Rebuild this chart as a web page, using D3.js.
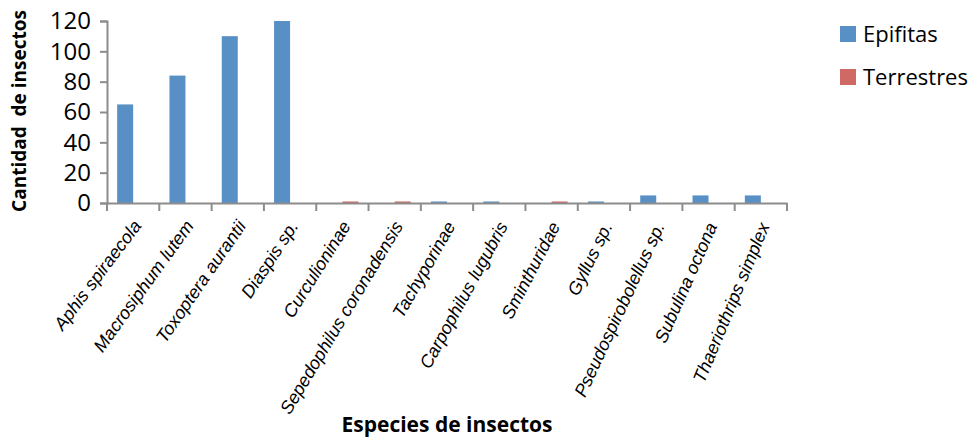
<!DOCTYPE html>
<html><head><meta charset="utf-8">
<script src="https://cdn.jsdelivr.net/npm/d3@7"></script>
<style>body{margin:0;background:#fff}svg{display:block}</style>
</head><body>
<svg id="chart" width="980" height="438"></svg>
<script>
const categories = ["Aphis spiraecola","Macrosiphum lutem","Toxoptera aurantii","Diaspis sp.","Curculioninae","Sepedophilus coronadensis","Tachyporinae","Carpophilus lugubris","Sminthuridae","Gyllus sp.","Pseudospirobolellus sp.","Subulina octona","Thaeriothrips simplex"];
const seriesNames = ["Epifitas","Terrestres"];
const epifitas =   [65, 84, 110, 120, 0, 0, 1, 1, 0, 1, 5, 5, 5];
const terrestres = [0, 0, 0, 0, 1, 1, 0, 0, 1, 0, 0, 0, 0];
const yTicks = [0, 20, 40, 60, 80, 100, 120];
const colors = ["#5890c6", "#ce6a63"];

const svg = d3.select("#chart");
const x0 = d3.scaleBand().domain(categories).range([107, 787]).padding(0);
const x1 = d3.scaleBand().domain(seriesNames).range([0, x0.bandwidth()]).paddingInner(0).paddingOuter(0.634);
const y = d3.scaleLinear().domain([0, 120]).range([203, 21]);
const values = [epifitas, terrestres];

// bars
seriesNames.forEach((s, si) => {
  svg.append("g").selectAll("rect").data(categories.map((c, i) => ({c, v: values[si][i]})))
    .join("rect")
    .attr("x", d => x0(d.c) + x1(s))
    .attr("width", x1.bandwidth())
    .attr("y", d => y(d.v))
    .attr("height", d => y(0) - y(d.v))
    .attr("fill", colors[si]);
});

// y axis
const yAxis = d3.axisLeft(y).tickValues(yTicks).tickSize(7).tickPadding(9);
const gy = svg.append("g").attr("transform", "translate(107,0)").call(yAxis);
gy.select(".domain").attr("stroke", "#8c8c8c").attr("stroke-width", 2);
gy.selectAll(".tick line").attr("stroke", "#8c8c8c").attr("stroke-width", 2);
gy.selectAll(".tick text").attr("font-family", "'Open Sans'").attr("font-size", 24).attr("fill", "#000");

// x axis
const xAxis = d3.axisBottom(x0).tickSize(0).tickFormat("");
const gx = svg.append("g").attr("transform", "translate(0,203)").call(xAxis);
gx.select(".domain").attr("stroke", "#8c8c8c").attr("stroke-width", 2);
gx.selectAll(".tick").remove();
const boundaries = categories.map(c => x0(c)).concat([x0.range()[1]]);
gx.selectAll("line.bt").data(boundaries).join("line").attr("class","bt")
  .attr("x1", d => d).attr("x2", d => d).attr("y1", 0).attr("y2", 8)
  .attr("stroke", "#8c8c8c").attr("stroke-width", 2);
gx.selectAll("text.lbl").data(categories).join("text").attr("class","lbl")
  .attr("transform", (d, i) => `translate(${x0(d) + x0.bandwidth()/2 + 9},${23}) rotate(${-(53 + 1.2 * i)})`)
  .attr("text-anchor", "end")
  .attr("font-family", "'Liberation Sans', Arial, sans-serif")
  .attr("font-style", "italic")
  .attr("font-size", 18)
  .attr("fill", "#000")
  .text(d => d);

// axis titles
svg.append("text").attr("x", 447).attr("y", 432).attr("text-anchor", "middle")
  .attr("font-family", "'Open Sans'").attr("font-weight", "bold").attr("font-size", 21)
  .text("Especies de insectos");
svg.append("text").attr("transform", "translate(26,111) rotate(-90)").attr("text-anchor", "middle")
  .attr("font-family", "'Open Sans'").attr("font-weight", "bold").attr("font-size", 19)
  .style("white-space", "pre")
  .text("Cantidad  de insectos");

// legend
const lg = svg.append("g").selectAll("g").data(seriesNames).join("g")
  .attr("transform", (d, i) => `translate(840,${26 + i * 43})`);
lg.append("rect").attr("width", 16).attr("height", 16).attr("fill", (d, i) => colors[i]);
lg.append("text").attr("x", 23).attr("y", 16).attr("font-family", "'Open Sans'").attr("font-size", 22)
  .attr("fill", "#000").text(d => d);
</script>
</body></html>
